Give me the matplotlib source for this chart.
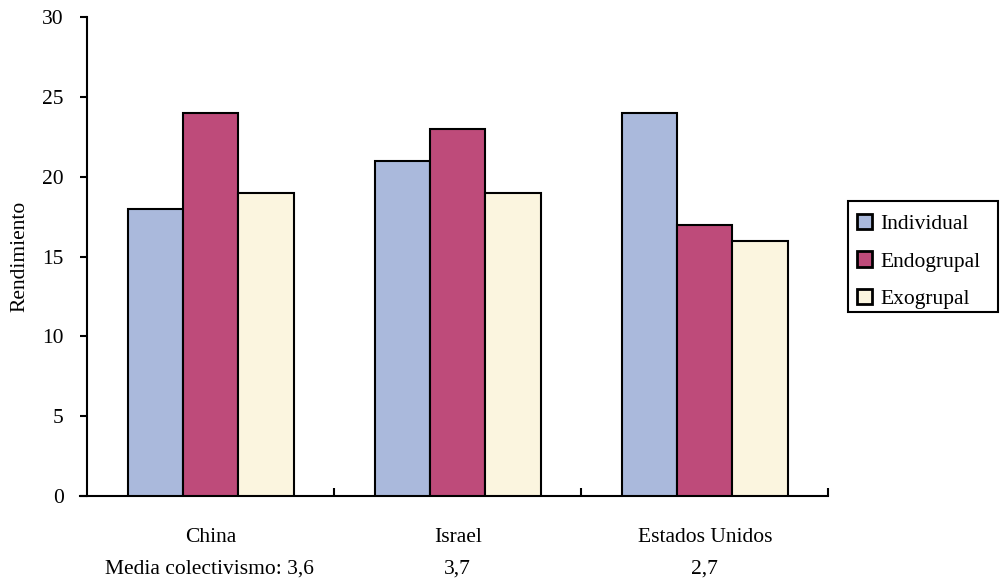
import matplotlib
matplotlib.use("Agg")
import matplotlib.pyplot as plt
from matplotlib.patches import Rectangle
import numpy as np

plt.rcParams['font.family'] = ['Liberation Serif', 'DejaVu Serif']

countries = ["China", "Israel", "Estados Unidos"]
collectivism = ["Media colectivismo: 3,6", "3,7", "2,7"]
series_names = ["Individual", "Endogrupal", "Exogrupal"]
individual = [18, 21, 24]
endogrupal = [24, 23, 17]
exogrupal = [19, 19, 16]
colors = ["#AAB9DC", "#BE4B7A", "#FBF5DF"]

FS = 15.5
W, H = 1000, 579

fig = plt.figure(figsize=(10, 5.79), dpi=100)
ax = fig.add_axes([0.0873, 0.1434, 0.741, 0.8264])

x = np.arange(len(countries))
w = 0.2235
for k, (vals, name, c) in enumerate(zip([individual, endogrupal, exogrupal], series_names, colors)):
    ax.bar(x + (k - 1) * w, vals, width=w, color=c, edgecolor="black",
           linewidth=1.5, label=name, zorder=3)

ax.set_xlim(-0.5, 2.5)
ax.set_ylim(0, 30)
ax.set_yticks(range(0, 31, 5))
ax.tick_params(axis='y', direction='out', length=5, width=1.5, labelsize=FS, pad=12)
ax.set_ylabel("Rendimiento", fontsize=FS, labelpad=9)

# category boundary ticks on the x axis
ax.set_xticks([0.5, 1.5, 2.5])
ax.set_xticklabels([])
ax.tick_params(axis='x', direction='in', length=6, width=1.5)
for s in ["top", "right"]:
    ax.spines[s].set_visible(False)
ax.spines["left"].set_linewidth(1.5)
ax.spines["bottom"].set_linewidth(1.5)
ax.spines["bottom"].set_bounds(-0.53, 2.5)

for i, (name, col) in enumerate(zip(countries, collectivism)):
    ax.annotate(name, xy=(i, 0), xycoords=('data', 'axes fraction'),
                xytext=(0, -32.9), textcoords='offset points',
                ha='center', va='baseline', fontsize=FS)
    ax.annotate(col, xy=(i, 0), xycoords=('data', 'axes fraction'),
                xytext=(-0.7 if i == 0 else 0, -55.8), textcoords='offset points',
                ha='center', va='baseline', fontsize=FS)

# legend box
fig.patches.append(Rectangle((848 / W, 1 - 312 / H), 150 / W, 111 / H,
                             transform=fig.transFigure, fill=False,
                             edgecolor='black', linewidth=1.5))
leg = fig.legend(loc='center left', bbox_to_anchor=(856.7 / W, 1 - 261.5 / H),
                 fontsize=FS, frameon=False,
                 handlelength=0.7, handleheight=0.7, handletextpad=0.39,
                 labelspacing=0.8, borderpad=0, borderaxespad=0)
for h in leg.legend_handles:
    h.set_linewidth(2)

fig.savefig("out.png", dpi=100)
